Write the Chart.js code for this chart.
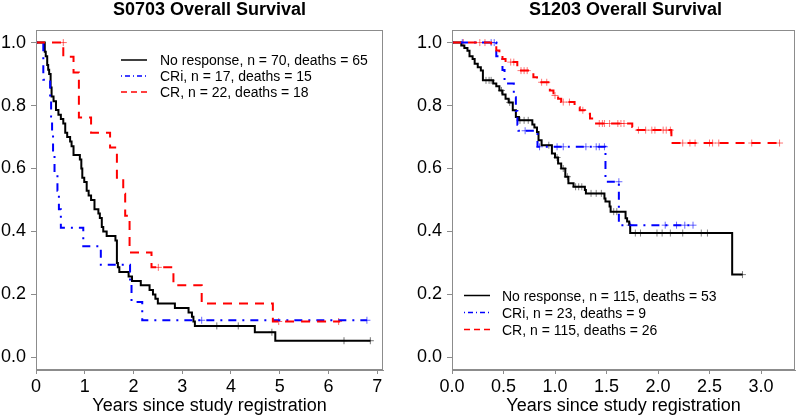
<!DOCTYPE html>
<html>
<head>
<meta charset="utf-8">
<script src="https://cdn.jsdelivr.net/npm/chart.js@4/dist/chart.umd.min.js"></script>
<style>
  body { margin: 0; background: #fff; font-family: "Liberation Sans", Arial, sans-serif; }
  #wrap { position: relative; width: 800px; height: 417px; background: #fff; overflow: hidden; }
  canvas { position: absolute; top: 0; }
  .title { position: absolute; top: 0; font-size: 18px; font-weight: bold; line-height: 18px; text-align: center; }
  .legend { position: absolute; font-size: 14px; }
  .legend .row { display: flex; align-items: center; white-space: nowrap; }
  .legend svg { display: block; }
</style>
</head>
<body>
<div id="wrap">
  <canvas id="chartA" width="400" height="417" style="left:0"></canvas>
  <canvas id="chartB" width="400" height="417" style="left:400px"></canvas>

  <div class="title" style="left:36px;width:347px">S0703 Overall Survival</div>
  <div class="title" style="left:452px;width:347px">S1203 Overall Survival</div>

  <div class="legend" style="left:121px;top:52px">
    <div class="row" style="height:16px"><svg width="26" height="16"><line x1="0" y1="8" x2="26" y2="8" stroke="#000" stroke-width="1.5"/></svg><span style="margin-left:13px">No response, n = 70, deaths = 65</span></div>
    <div class="row" style="height:16px"><svg width="26" height="16"><line x1="0" y1="8" x2="26" y2="8" stroke="#0000ff" stroke-width="1.5" stroke-dasharray="1 3 5 3"/></svg><span style="margin-left:13px">CRi, n = 17, deaths = 15</span></div>
    <div class="row" style="height:16px"><svg width="26" height="16"><line x1="0" y1="8" x2="26" y2="8" stroke="#ff0000" stroke-width="1.5" stroke-dasharray="6 4"/></svg><span style="margin-left:13px">CR, n = 22, deaths = 18</span></div>
  </div>

  <div class="legend" style="left:464px;top:287px">
    <div class="row" style="height:17px"><svg width="26" height="17"><line x1="0" y1="8.5" x2="26" y2="8.5" stroke="#000" stroke-width="1.5"/></svg><span style="margin-left:12px">No response, n = 115, deaths = 53</span></div>
    <div class="row" style="height:17px"><svg width="26" height="17"><line x1="0" y1="8.5" x2="26" y2="8.5" stroke="#0000ff" stroke-width="1.5" stroke-dasharray="1 3 5 3"/></svg><span style="margin-left:12px">CRi, n = 23, deaths = 9</span></div>
    <div class="row" style="height:17px"><svg width="26" height="17"><line x1="0" y1="8.5" x2="26" y2="8.5" stroke="#ff0000" stroke-width="1.5" stroke-dasharray="6 4"/></svg><span style="margin-left:12px">CR, n = 115, deaths = 26</span></div>
  </div>
</div>

<script>
// ---- S0703 (left panel) ----
const s0703NoRespTime = [0, 0.18, 0.2, 0.23, 0.25, 0.27, 0.3, 0.32, 0.36, 0.41, 0.46, 0.51, 0.56, 0.6, 0.64, 0.7, 0.73, 0.77, 0.9, 0.93, 0.95, 0.99, 1.04, 1.08, 1.13, 1.2, 1.28, 1.31, 1.35, 1.38, 1.45, 1.63, 1.66, 1.68, 1.71, 1.9, 1.97, 2.15, 2.33, 2.4, 2.45, 2.5, 2.85, 3.13, 3.2, 3.23, 3.26, 4.49, 4.91, 6.86];
const s0703NoRespSurv = [1, 0.971, 0.957, 0.929, 0.914, 0.9, 0.857, 0.829, 0.814, 0.786, 0.771, 0.757, 0.743, 0.714, 0.7, 0.686, 0.671, 0.643, 0.629, 0.6, 0.571, 0.557, 0.529, 0.514, 0.5, 0.471, 0.457, 0.443, 0.414, 0.4, 0.386, 0.371, 0.3, 0.286, 0.271, 0.257, 0.243, 0.229, 0.214, 0.2, 0.186, 0.171, 0.157, 0.143, 0.129, 0.114, 0.1, 0.08, 0.053, 0.053];
const s0703NoRespCensTime = [3.71, 4.15, 4.84, 6.32, 6.86];
const s0703NoRespCensSurv = [0.1, 0.1, 0.08, 0.053, 0.053];

const s0703CRiTime = [0, 0.15, 0.29, 0.31, 0.33, 0.35, 0.38, 0.44, 0.47, 0.51, 0.97, 1.33, 1.93, 1.96, 2.18, 6.79];
const s0703CRiSurv = [1, 0.882, 0.824, 0.765, 0.706, 0.647, 0.588, 0.529, 0.471, 0.412, 0.353, 0.294, 0.235, 0.176, 0.118, 0.118];
const s0703CRiCensTime = [3.4, 6.79];
const s0703CRiCensSurv = [0.118, 0.118];

const s0703CRTime = [0, 0.56, 0.77, 0.88, 1.13, 1.52, 1.66, 1.79, 1.83, 1.92, 2.37, 2.82, 3.4, 4.86, 6.24];
const s0703CRSurv = [1, 0.955, 0.905, 0.762, 0.714, 0.667, 0.571, 0.52, 0.45, 0.333, 0.286, 0.229, 0.171, 0.114, 0.114];
const s0703CRCensTime = [0.56, 2.51, 4.98, 6.21];
const s0703CRCensSurv = [1, 0.286, 0.114, 0.114];

// ---- S1203 (right panel) ----
const s1203NoRespTime = [0, 0.09, 0.12, 0.15, 0.17, 0.2, 0.22, 0.25, 0.28, 0.3, 0.4, 0.43, 0.46, 0.49, 0.52, 0.55, 0.59, 0.62, 0.65, 0.78, 0.8, 0.825, 0.84, 0.87, 0.97, 1.0, 1.03, 1.06, 1.1, 1.13, 1.18, 1.29, 1.3, 1.48, 1.49, 1.53, 1.54, 1.685, 1.7, 1.72, 1.73, 2.72, 2.82];
const s1203NoRespSurv = [1, 0.991, 0.983, 0.974, 0.957, 0.948, 0.933, 0.922, 0.911, 0.88, 0.87, 0.861, 0.848, 0.835, 0.822, 0.81, 0.785, 0.764, 0.753, 0.74, 0.73, 0.716, 0.69, 0.674, 0.648, 0.635, 0.616, 0.6, 0.574, 0.553, 0.542, 0.532, 0.521, 0.505, 0.495, 0.479, 0.463, 0.442, 0.432, 0.421, 0.395, 0.263, 0.263];
const s1203NoRespCensTime = [0.33, 0.36, 0.38, 0.48, 0.56, 0.66, 0.7, 0.74, 0.94, 1.02, 1.08, 1.12, 1.2, 1.23, 1.26, 1.35, 1.4, 1.45, 1.57, 1.6, 1.78, 1.83, 1.99, 2.04, 2.12, 2.24, 2.42, 2.48, 2.82];
const s1203NoRespCensSurv = [0.88, 0.88, 0.88, 0.848, 0.81, 0.753, 0.753, 0.753, 0.674, 0.635, 0.6, 0.574, 0.542, 0.542, 0.542, 0.521, 0.521, 0.521, 0.463, 0.463, 0.395, 0.395, 0.395, 0.395, 0.395, 0.395, 0.395, 0.395, 0.263];

const s1203CRiTime = [0, 0.43, 0.49, 0.51, 0.6, 0.62, 0.635, 0.645, 0.83, 1.49, 1.62, 2.34];
const s1203CRiSurv = [1, 0.957, 0.913, 0.87, 0.826, 0.783, 0.739, 0.72, 0.669, 0.558, 0.42, 0.42];
const s1203CRiCensTime = [0.1, 0.38, 0.41, 0.71, 0.85, 1.02, 1.08, 1.3, 1.4, 1.43, 1.48, 1.62, 1.73, 2.07, 2.18, 2.26, 2.34];
const s1203CRiCensSurv = [1, 1, 1, 0.72, 0.669, 0.669, 0.669, 0.669, 0.669, 0.669, 0.669, 0.558, 0.42, 0.42, 0.42, 0.42, 0.42];

const s1203CRTime = [0, 0.38, 0.43, 0.46, 0.49, 0.52, 0.634, 0.79, 0.825, 0.95, 0.985, 1.03, 1.06, 1.19, 1.24, 1.29, 1.34, 1.38, 1.75, 1.77, 2.13, 3.2];
const s1203CRSurv = [1, 0.991, 0.975, 0.959, 0.948, 0.938, 0.911, 0.89, 0.874, 0.848, 0.832, 0.822, 0.811, 0.795, 0.785, 0.774, 0.759, 0.743, 0.732, 0.722, 0.681, 0.681];
const s1203CRCensTime = [0.11, 0.27, 0.32, 0.57, 0.6, 0.67, 0.7, 0.73, 0.87, 0.92, 1.0, 1.08, 1.14, 1.27, 1.43, 1.46, 1.48, 1.53, 1.61, 1.64, 1.67, 1.81, 1.88, 1.94, 1.97, 2.05, 2.08, 2.12, 2.24, 2.31, 2.36, 2.5, 2.53, 2.59, 2.91, 3.18];
const s1203CRCensSurv = [1, 1, 1, 0.938, 0.938, 0.911, 0.911, 0.911, 0.874, 0.874, 0.832, 0.811, 0.811, 0.785, 0.743, 0.743, 0.743, 0.743, 0.743, 0.743, 0.743, 0.722, 0.722, 0.722, 0.722, 0.722, 0.722, 0.722, 0.681, 0.681, 0.681, 0.681, 0.681, 0.681, 0.681, 0.681];

// ---- tick labels ----
const yTicks = [0, 0.2, 0.4, 0.6, 0.8, 1.0];
const s0703XTicks = [0, 1, 2, 3, 4, 5, 6, 7];
const s1203XTicks = [0, 0.5, 1.0, 1.5, 2.0, 2.5, 3.0];

const AXIS_GRAY = "#8c8c8c";
const FONT = "'Liberation Sans', Arial, sans-serif";

function toPoints(times, survs) {
  return times.map((t, i) => ({ x: t, y: survs[i] }));
}

// stepped survival curve (horizontal first, then drop)
function curveDataset(times, survs, color, dash) {
  return {
    data: toPoints(times, survs),
    borderColor: color,
    borderWidth: 2,
    borderDash: dash,
    stepped: "before",
    pointRadius: 0,
    fill: false,
  };
}

// "+" marks for censored observations
function censorDataset(times, survs, color) {
  return {
    data: toPoints(times, survs),
    showLine: false,
    pointStyle: "cross",
    pointRadius: 3.5,
    pointBorderWidth: 1,
    pointBorderColor: color,
    pointBackgroundColor: color,
  };
}

// R-style box around the plot region
const boxPlugin = {
  id: "box",
  afterDatasetsDraw(chart) {
    const a = chart.chartArea;
    const ctx = chart.ctx;
    ctx.save();
    ctx.strokeStyle = AXIS_GRAY;
    ctx.lineWidth = 1;
    ctx.strokeRect(a.left + 0.5, a.top + 0.5, a.right - a.left - 1, a.bottom - a.top - 1);
    ctx.restore();
  },
};

function makeChart(canvasId, datasets, xMax, xTicks, xFormat, yAxisWidth, rightPad) {
  const ctx = document.getElementById(canvasId).getContext("2d");
  return new Chart(ctx, {
    type: "line",
    data: { datasets: datasets },
    plugins: [boxPlugin],
    options: {
      responsive: false,
      animation: false,
      devicePixelRatio: 1,
      layout: { padding: { top: 30, right: rightPad, left: 0, bottom: 0 } },
      plugins: {
        legend: { display: false },
        tooltip: { enabled: false },
      },
      scales: {
        x: {
          type: "linear",
          min: 0,
          max: xMax,
          afterBuildTicks: (scale) => { scale.ticks = xTicks.map((v) => ({ value: v })); },
          afterFit: (scale) => { scale.height = 47; },
          ticks: {
            autoSkip: false,
            maxRotation: 0,
            padding: 2,
            color: "#000",
            font: { family: FONT, size: 18 },
            callback: xFormat,
          },
          grid: { drawOnChartArea: false, drawTicks: true, tickLength: 4, color: AXIS_GRAY },
          border: { display: true, color: AXIS_GRAY },
          title: {
            display: true,
            text: "Years since study registration",
            color: "#000",
            font: { family: FONT, size: 18 },
            padding: { top: 0, bottom: 0 },
          },
        },
        y: {
          type: "linear",
          min: -0.04,
          max: 1.04,
          afterBuildTicks: (scale) => { scale.ticks = yTicks.map((v) => ({ value: v })); },
          afterFit: (scale) => { scale.width = yAxisWidth; },
          ticks: {
            padding: 5,
            color: "#000",
            font: { family: FONT, size: 18 },
            callback: (v) => Number(v).toFixed(1),
          },
          grid: { drawOnChartArea: false, drawTicks: true, tickLength: 5, color: AXIS_GRAY },
          border: { display: true, color: AXIS_GRAY },
        },
      },
    },
  });
}

const BLACK = "#000000";
const BLUE = "#0000ff";
const RED = "#ff0000";
const DASH_DOT = [2, 6, 8, 6];
const DASHED = [9, 7];

makeChart("chartA", [
  curveDataset(s0703CRTime, s0703CRSurv, RED, DASHED),
  curveDataset(s0703CRiTime, s0703CRiSurv, BLUE, DASH_DOT),
  curveDataset(s0703NoRespTime, s0703NoRespSurv, BLACK, []),
  censorDataset(s0703CRCensTime, s0703CRCensSurv, "rgba(255,0,0,0.6)"),
  censorDataset(s0703CRiCensTime, s0703CRiCensSurv, "rgba(0,0,255,0.6)"),
  censorDataset(s0703NoRespCensTime, s0703NoRespCensSurv, "rgba(0,0,0,0.55)"),
], 7.12, s0703XTicks, (v) => String(v), 36, 17);

makeChart("chartB", [
  curveDataset(s1203CRTime, s1203CRSurv, RED, DASHED),
  curveDataset(s1203CRiTime, s1203CRiSurv, BLUE, DASH_DOT),
  curveDataset(s1203NoRespTime, s1203NoRespSurv, BLACK, []),
  censorDataset(s1203CRCensTime, s1203CRCensSurv, "rgba(255,0,0,0.55)"),
  censorDataset(s1203CRiCensTime, s1203CRiCensSurv, "rgba(0,0,255,0.6)"),
  censorDataset(s1203NoRespCensTime, s1203NoRespCensSurv, "rgba(0,0,0,0.5)"),
], 3.33, s1203XTicks, (v) => Number(v).toFixed(1), 52, 1);
</script>
</body>
</html>
